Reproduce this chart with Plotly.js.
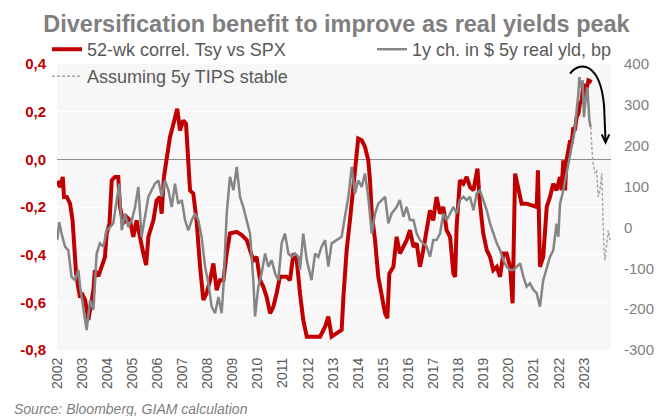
<!DOCTYPE html>
<html><head><meta charset="utf-8">
<script src="https://cdn.plot.ly/plotly-3.0.1.min.js"></script>
<style>html,body{margin:0;padding:0;background:#fff;} #chart{width:660px;height:416px;}</style>
</head><body><div id="chart"></div>
<script>
// 52-wk correlation Tsy vs SPX (left axis)
const corrDates = [2002.01,2002.12,2002.23,2002.28,2002.39,2002.52,2002.62,2002.68,2002.76,2002.85,2002.92,2002.98,2003.12,2003.25,2003.34,2003.45,2003.51,2003.65,2003.78,2003.91,2003.98,2004.09,2004.18,2004.31,2004.44,2004.51,2004.64,2004.78,2004.91,2005.04,2005.17,2005.31,2005.44,2005.55,2005.64,2005.84,2005.97,2006.10,2006.17,2006.26,2006.37,2006.50,2006.64,2006.70,2006.79,2006.90,2007.03,2007.14,2007.23,2007.30,2007.43,2007.56,2007.70,2007.83,2007.96,2008.10,2008.23,2008.36,2008.49,2008.63,2008.76,2008.89,2009.16,2009.36,2009.56,2009.69,2009.82,2009.95,2010.09,2010.22,2010.35,2010.49,2010.62,2010.75,2010.88,2011.15,2011.28,2011.42,2011.55,2011.68,2011.81,2011.95,2012.21,2012.48,2012.68,2012.81,2012.94,2013.14,2013.34,2013.41,2013.54,2013.67,2013.80,2013.91,2014.00,2014.14,2014.27,2014.40,2014.47,2014.54,2014.67,2014.80,2014.93,2015.07,2015.16,2015.24,2015.40,2015.53,2015.66,2015.80,2015.93,2016.06,2016.20,2016.33,2016.46,2016.59,2016.73,2016.86,2016.99,2017.12,2017.26,2017.39,2017.52,2017.66,2017.79,2017.86,2017.92,2018.05,2018.19,2018.32,2018.45,2018.59,2018.75,2018.85,2018.98,2019.12,2019.25,2019.38,2019.52,2019.65,2019.78,2019.91,2020.05,2020.15,2020.25,2020.38,2020.51,2020.71,2020.98,2021.11,2021.16,2021.24,2021.37,2021.51,2021.64,2021.77,2021.90,2022.04,2022.10,2022.17,2022.24,2022.30,2022.37,2022.44,2022.50,2022.57,2022.63,2022.70,2022.77,2022.83,2022.90,2022.97,2023.03,2023.10,2023.17,2023.30];
const corrValues = [-0.09,-0.116,-0.074,-0.158,-0.158,-0.186,-0.255,-0.367,-0.479,-0.54,-0.58,-0.56,-0.59,-0.674,-0.62,-0.549,-0.465,-0.49,-0.45,-0.41,-0.311,-0.27,-0.088,-0.074,-0.074,-0.2,-0.27,-0.242,-0.256,-0.325,-0.256,-0.339,-0.395,-0.444,-0.325,-0.256,-0.172,-0.158,-0.228,-0.074,0.01,0.093,0.149,0.177,0.212,0.121,0.163,0.149,-0.018,-0.13,-0.144,-0.256,-0.451,-0.59,-0.562,-0.507,-0.437,-0.549,-0.507,-0.507,-0.395,-0.311,-0.304,-0.318,-0.339,-0.381,-0.423,-0.409,-0.507,-0.535,-0.577,-0.646,-0.618,-0.562,-0.493,-0.493,-0.507,-0.395,-0.423,-0.562,-0.674,-0.744,-0.744,-0.744,-0.702,-0.66,-0.744,-0.73,-0.716,-0.577,-0.381,-0.256,-0.13,-0.004,0.087,0.08,0.052,-0.004,-0.088,-0.228,-0.339,-0.493,-0.577,-0.646,-0.667,-0.479,-0.451,-0.325,-0.395,-0.367,-0.339,-0.297,-0.367,-0.353,-0.451,-0.381,-0.283,-0.214,-0.256,-0.158,-0.228,-0.2,-0.297,-0.325,-0.479,-0.493,-0.283,-0.088,-0.102,-0.074,-0.116,-0.13,-0.039,-0.186,-0.311,-0.381,-0.409,-0.465,-0.451,-0.493,-0.395,-0.395,-0.451,-0.604,-0.06,-0.116,-0.186,-0.186,-0.193,-0.2,-0.046,-0.451,-0.409,-0.2,-0.158,-0.102,-0.13,-0.074,-0.13,-0.004,-0.13,-0.004,0.038,0.08,0.066,0.135,0.121,0.177,0.191,0.233,0.247,0.317,0.261,0.303,0.331,0.324];

// 1y change in $ 5y real yield, bp (right axis)
const yieldDates = [2002.01,2002.09,2002.18,2002.32,2002.45,2002.58,2002.72,2002.85,2002.92,2003.05,2003.18,2003.32,2003.45,2003.58,2003.71,2003.85,2003.98,2004.11,2004.24,2004.38,2004.48,2004.58,2004.71,2004.84,2004.98,2005.11,2005.24,2005.37,2005.51,2005.64,2005.77,2005.90,2006.04,2006.17,2006.30,2006.44,2006.57,2006.70,2006.83,2006.97,2007.10,2007.23,2007.37,2007.50,2007.63,2007.76,2007.90,2008.03,2008.16,2008.30,2008.43,2008.56,2008.63,2008.76,2008.89,2009.03,2009.16,2009.29,2009.42,2009.56,2009.69,2009.82,2009.89,2010.02,2010.15,2010.29,2010.42,2010.55,2010.69,2010.82,2010.95,2011.08,2011.22,2011.35,2011.48,2011.62,2011.68,2011.81,2011.95,2012.14,2012.28,2012.41,2012.54,2012.68,2012.81,2012.94,2013.14,2013.34,2013.47,2013.61,2013.74,2013.87,2014.00,2014.14,2014.27,2014.40,2014.54,2014.67,2014.80,2014.93,2015.07,2015.20,2015.33,2015.53,2015.66,2015.80,2015.93,2016.06,2016.20,2016.33,2016.46,2016.59,2016.73,2016.86,2016.99,2017.12,2017.26,2017.39,2017.52,2017.66,2017.79,2017.92,2018.05,2018.19,2018.32,2018.45,2018.59,2018.72,2018.85,2018.98,2019.12,2019.25,2019.38,2019.52,2019.65,2019.78,2019.91,2020.05,2020.18,2020.31,2020.45,2020.58,2020.71,2020.84,2020.98,2021.11,2021.24,2021.37,2021.51,2021.64,2021.77,2021.90,2021.97,2022.04,2022.17,2022.30,2022.44,2022.57,2022.63,2022.70,2022.77,2022.81,2022.86,2022.94,2022.99,2023.07,2023.13,2023.21,2023.26];
const yieldValues = [-31,13,-15,-47,-56,-121,-129,-104,-145,-194,-251,-178,-202,-64,-39,-47,-7,1,10,67,107,-7,34,1,18,50,99,-23,34,75,91,107,115,75,115,91,50,107,58,67,18,-7,18,34,18,-23,-96,-137,-194,-210,-170,-210,-145,34,124,91,148,75,50,18,-15,-129,-218,-145,-113,-64,-96,-80,-113,-129,-39,-15,-64,-72,-64,-72,-104,-15,-80,-129,-64,-72,-47,-31,-96,-39,-31,-23,26,75,148,83,115,99,132,75,-15,34,58,67,75,10,34,50,67,26,50,18,18,-15,-31,-39,-47,-72,-31,-31,-15,34,18,34,50,34,67,75,67,75,42,83,91,67,42,10,-15,-39,-56,-80,-96,-104,-104,-96,-88,-121,-145,-137,-153,-161,-194,-129,-96,-72,-56,9,-23,58,91,132,181,213,238,286,327,368,343,360,270,319,343,262,246];

// Assuming 5y TIPS stable (right axis, dashed)
const projDates = [2023.26,2023.34,2023.43,2023.50,2023.56,2023.63,2023.70,2023.74,2023.79,2023.83,2023.90,2023.96,2024.03];
const projValues = [246,164,132,140,75,91,132,42,-56,-80,-39,-7,-31];

const yearTicks = [2002,2003,2004,2005,2006,2007,2008,2009,2010,2011,2012,2013,2014,2015,2016,2017,2018,2019,2020,2021,2022,2023];
const yearLabels = yearTicks.map(String);
const leftTicks = [-0.8,-0.6,-0.4,-0.2,0,0.2,0.4];
const leftTickText = ['-0,8','-0,6','-0,4','-0,2','0,0','0,2','0,4'];
const rightTicks = [-300,-200,-100,0,100,200,300,400];
const rightTickText = ['-300','-200','-100','0','100','200','300','400'];

const FONT = 'Liberation Sans, Arial, sans-serif';
const W = 660, H = 416, ML = 57, MR = 49, MT = 63.5, MB = 66;
const PW = W - ML - MR, PH = H - MT - MB;
const px2x = p => (p - ML) / PW;
const py2y = p => (H - MB - p) / PH;

const traces = [
  {x: corrDates, y: corrValues, name: '52-wk correl. Tsy vs SPX', type: 'scatter', mode: 'lines',
   line: {color: '#c00000', width: 4}, yaxis: 'y', legend: 'legend', legendwidth: 280},
  {x: yieldDates, y: yieldValues, name: '1y ch. in $ 5y real yld, bp', type: 'scatter', mode: 'lines',
   line: {color: '#858585', width: 2.5}, yaxis: 'y2', legend: 'legend'},
  {x: projDates, y: projValues, name: 'Assuming 5y TIPS stable', type: 'scatter', mode: 'lines',
   line: {color: '#a6a6a6', width: 1.5, dash: '3px,2px'}, yaxis: 'y2', legend: 'legend2'}
];

const layout = {
  width: W, height: H,
  margin: {l: ML, r: MR, t: MT, b: MB, pad: 0},
  paper_bgcolor: '#ffffff', plot_bgcolor: '#f7f7f7',
  font: {family: FONT, color: '#595959'},
  title: {text: 'Diversification benefit to improve as real yields peak',
    font: {family: FONT, size: 23.5, color: '#7f7f7f', weight: 'bold'},
    x: 336.5 / W, xanchor: 'center', xref: 'container',
    y: 1 - 23.5 / H, yanchor: 'middle', yref: 'container'},
  xaxis: {range: [2002, 2024.07], tickvals: yearTicks, ticktext: yearLabels, tickangle: -90,
    tickfont: {family: FONT, size: 14, color: '#595959'}, showgrid: false, zeroline: false,
    showline: false, ticks: '', ticklabelstandoff: 4},
  yaxis: {range: [-0.8, 0.4], tickvals: leftTicks, ticktext: leftTickText,
    tickfont: {family: FONT, size: 15, color: '#c00000', weight: 'bold'},
    showgrid: true, gridcolor: '#ffffff', gridwidth: 1,
    zeroline: true, zerolinecolor: '#8c8c8c', zerolinewidth: 1.5,
    showline: false, ticks: '', ticklabelstandoff: 10},
  yaxis2: {range: [-300, 400], tickvals: rightTicks, ticktext: rightTickText, overlaying: 'y', side: 'right',
    tickfont: {family: FONT, size: 15, color: '#7f7f7f'}, showgrid: false, zeroline: false,
    showline: false, ticks: '', ticklabelstandoff: 12},
  showlegend: true,
  legend: {orientation: 'h', x: px2x(47), xanchor: 'left', y: py2y(49), yanchor: 'middle',
    font: {family: FONT, size: 18, color: '#595959'}, bgcolor: 'rgba(0,0,0,0)',
    itemwidth: 30, borderwidth: 0},
  legend2: {orientation: 'h', x: px2x(47), xanchor: 'left', y: py2y(76), yanchor: 'middle',
    font: {family: FONT, size: 18, color: '#595959'}, bgcolor: 'rgba(0,0,0,0)',
    itemwidth: 30, borderwidth: 0},
  shapes: [
    {type: 'path', xref: 'x', yref: 'y', layer: 'above',
     path: 'M 2022.438,0.360 C 2022.837,0.4147 2023.633,0.4063 2023.793,0.2262 L 2023.853,0.0754',
     line: {color: '#000000', width: 2}},
    {type: 'path', xref: 'x', yref: 'y', layer: 'above',
     path: 'M 2023.701,0.1047 L 2023.853,0.0712 L 2024.004,0.1047',
     line: {color: '#000000', width: 2}}
  ],
  annotations: [
    {text: 'Source: Bloomberg, GIAM calculation', xref: 'paper', yref: 'paper',
     x: px2x(12), xanchor: 'left', y: py2y(409), yanchor: 'middle', showarrow: false,
     font: {family: FONT, size: 14, color: '#7f7f7f', style: 'italic'}}
  ]
};

Plotly.newPlot('chart', traces, layout, {staticPlot: true, displayModeBar: false});
</script>
</body></html>
